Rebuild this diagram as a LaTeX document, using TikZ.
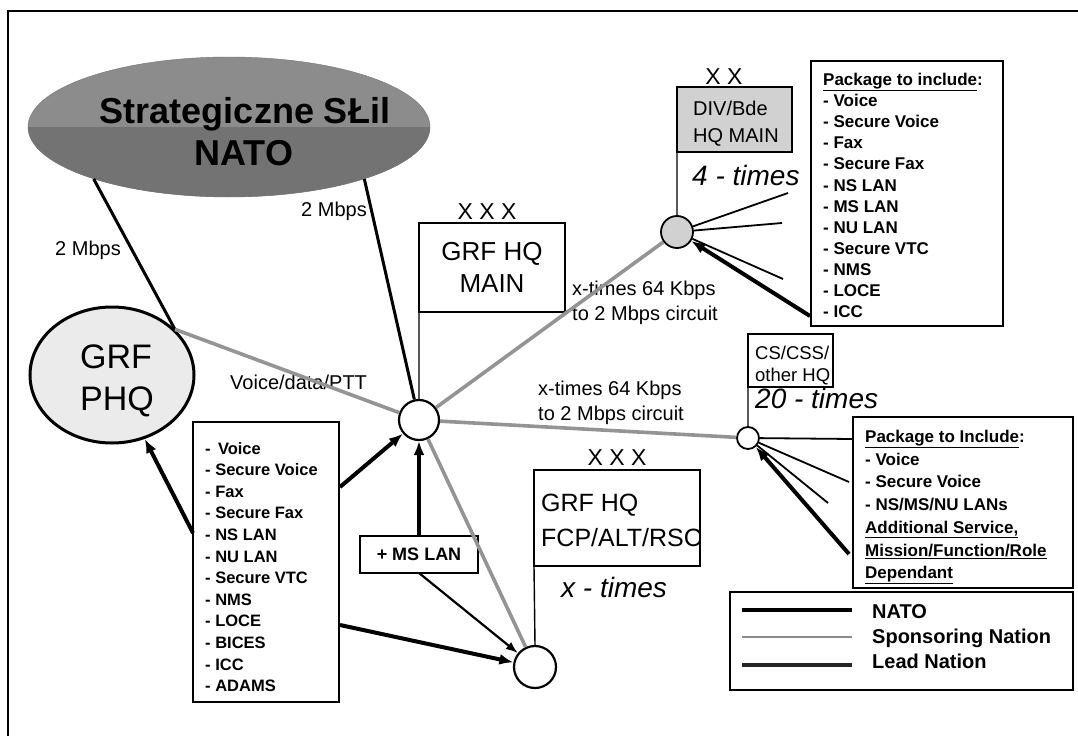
\documentclass[tikz,border=0pt]{standalone}
\usepackage{fontspec}
\setmainfont{Liberation Sans}
\usetikzlibrary{shapes.geometric,arrows.meta}
\newcommand\fsz[2]{\fontsize{#1bp}{#2bp}\selectfont}
\begin{document}
\begin{tikzpicture}[x=1bp,y=-1bp,
  box/.style={draw,line width=1.3bp,inner sep=0pt,outer sep=0pt},
  thinln/.style={line width=1.4bp},
  fanln/.style={line width=1.8bp},
  blk/.style={line width=3bp},
  gryln/.style={line width=3.6bp,draw=black!42},
  arr/.style={line width=4bp,-{Latex[length=14bp,width=11bp]}},
  arrm/.style={line width=2.2bp,-{Latex[length=12bp,width=9bp]}},
  lbl/.style={inner sep=0pt,font=\fsz{20}{25}},
  lst/.style={inner sep=0pt,align=left,anchor=north west,font=\bfseries\fsz{17}{21.1}},
  hub/.style={circle,draw,line width=2.2bp,fill=white,inner sep=0pt},
  xmark/.style={inner sep=0pt,anchor=base,font=\fsz{23}{25}},
  times/.style={inner sep=0pt,anchor=base west,font=\itshape\fsz{28}{30}}]
\useasboundingbox (0,0) rectangle (1078,736);
% frame
\draw[line width=2.5bp] (8,736) -- (8,11) -- (1078,11);

% NATO ellipse
\node[ellipse,fill=black!45,draw=black!55,minimum width=402bp,minimum height=140bp,inner sep=0pt] (nato) at (229,127) {};
\begin{scope}
  \clip (0,127) rectangle (440,200);
  \fill[black!55] (229,127) ellipse [x radius=201bp, y radius=70bp];
\end{scope}
\node[anchor=base,inner sep=0pt,font=\bfseries\fsz{36}{40}] (natoA) at (245,123) {Strategiczne SŁil};
\node[anchor=base,inner sep=0pt,font=\bfseries\fsz{36}{40}] (natoB) at (244,165) {NATO};

% GRF PHQ
\node[ellipse,draw,line width=3bp,fill=black!8,minimum width=164bp,minimum height=136bp,inner sep=0pt] (phq) at (112,375) {};
\node[anchor=base,inner sep=0pt,font=\fsz{34}{42}] (phqA) at (116,368) {GRF};
\node[anchor=base,inner sep=0pt,font=\fsz{34}{42}] (phqB) at (117,410) {PHQ};

% hubs
\node[hub,minimum size=40bp] (c1) at (419,420) {};
\node[hub,minimum size=32bp,fill=black!18,line width=1.8bp] (c2) at (677,232) {};
\node[hub,minimum size=22bp,line width=1.8bp] (c3) at (748,438) {};
\node[hub,minimum size=42bp] (c4) at (535,667) {};

% GRF HQ MAIN
\node[box,line width=2bp,minimum width=146bp,minimum height=89bp,align=center,font=\fsz{26}{32}] (main) at (492,267.5) {GRF HQ\\MAIN};
\node[xmark] (mainX) at (487,219) {X X X};

% DIV/Bde
\node[box,line width=2.5bp,fill=black!18,minimum width=115bp,minimum height=65bp] (div) at (734.5,119.5) {};
\node[anchor=north west,inner sep=0pt,align=left,font=\fsz{20}{27}] (divT) at (693,101) {DIV/Bde\\HQ MAIN};
\node[xmark] (divX) at (724,85) {X X};
\node[times] (divN) at (692,185) {4 - times};

% CS/CSS
\node[box,line width=2bp,minimum width=85bp,minimum height=53bp] (cs) at (790.5,360.5) {};
\node[anchor=north west,inner sep=0pt,align=left,font=\fsz{18.5}{22}] (csT) at (755,346) {CS/CSS/\\other HQ};
\node[times] (csN) at (755,408) {20 - times};

% FCP
\node[box,line width=2bp,minimum width=166bp,minimum height=96bp] (fcp) at (617,518) {};
\node[anchor=north west,inner sep=0pt,align=left,font=\fsz{25}{35}] (fcpT) at (541,494) {GRF HQ\\FCP/ALT/RSC};
\node[xmark] (fcpX) at (617,465) {X X X};
\node[times] (fcpN) at (561,597) {x - times};

% package 1
\node[box,minimum width=192bp,minimum height=265bp] (pkg1) at (907,193.5) {};
\node[lst] (pkg1T) at (823,73) {\underline{Package to include}:\\- Voice\\- Secure Voice\\- Fax\\- Secure Fax\\- NS LAN\\- MS LAN\\- NU LAN\\- Secure VTC\\- NMS\\- LOCE\\- ICC};

% package 2
\node[box,minimum width=220bp,minimum height=171bp] (pkg2) at (963,502.5) {};
\node[lst,font=\bfseries\fsz{17}{22.7}] (pkg2T) at (865,430) {\underline{Package to Include}:\\- Voice\\- Secure Voice\\- NS/MS/NU LANs\\\underline{Additional Service,}\\\underline{Mission/Function/Role}\\\underline{Dependant}};

% list box
\node[box,minimum width=146bp,minimum height=280bp] (lst) at (266,562) {};
\node[lst,font=\bfseries\fsz{16.5}{21.6}] (lstT) at (205,442) {-\, Voice\\- Secure Voice\\- Fax\\- Secure Fax\\- NS LAN\\- NU LAN\\- Secure VTC\\- NMS\\- LOCE\\- BICES\\- ICC\\- ADAMS};

% + MS LAN
\node[box,minimum width=118bp,minimum height=37bp,font=\bfseries\fsz{18}{20}] (msl) at (419,554.5) {+ MS LAN};

% legend
\node[box,minimum width=343bp,minimum height=98bp] (leg) at (901.5,641) {};
\draw[line width=4bp] (742,610) -- (852,610);
\draw[line width=2.2bp,draw=black!45] (742,637) -- (852,637);
\draw[line width=4.5bp,draw=black!85] (742,665) -- (852,665);
\node[anchor=base west,inner sep=0pt,font=\bfseries\fsz{20}{24}] (legA) at (872,618) {NATO};
\node[anchor=base west,inner sep=0pt,font=\bfseries\fsz{20}{24}] (legB) at (872,643) {Sponsoring Nation};
\node[anchor=base west,inner sep=0pt,font=\bfseries\fsz{20}{24}] (legC) at (872,668) {Lead Nation};

% labels
\node[lbl,anchor=base] (l2a) at (88,255) {2 Mbps};
\node[lbl,anchor=base] (l2b) at (334,216) {2 Mbps};
\node[lbl,anchor=base west] (lvd) at (230,389) {Voice/data/PTT};
\node[lbl,anchor=north west,align=left] (lx1) at (572,281) {x-times 64 Kbps\\to 2 Mbps circuit};
\node[lbl,anchor=north west,align=left] (lx2) at (538,381) {x-times 64 Kbps\\to 2 Mbps circuit};

% free ends
\coordinate (d1) at (788,193);
\coordinate (d2) at (782,223);
\coordinate (d3) at (783,279);
\coordinate (d4) at (810,316);
\coordinate (e1) at (853,439);
\coordinate (e2) at (849,482);
\coordinate (e3) at (828,503);
\coordinate (e4) at (849,554);
\coordinate (f1) at (340,487);
\coordinate (f2) at (340,625);
\coordinate (f3) at (193,533);

% connectors
\draw[blk] (nato.201) -- (phq.36);
\draw[gryln] (phq.36) -- (c1);
\draw[blk] (nato.339) -- (c1);
\draw[thinln] (main.south west) -- (c1.north);
\draw[gryln] (c1) -- (c2);
\draw[gryln] (c1) -- (c3);
\draw[gryln] (c1) -- (c4);
\draw[thinln] (div.south west) -- (c2.north);
\draw[thinln] (cs.south west) -- (c3.north);
\draw[thinln] (fcp.south west) -- (c4.north);
\draw[fanln] (c2) -- (d1);
\draw[fanln] (c2) -- (d2);
\draw[fanln] (c2) -- (d3);
\draw[arr] (d4) -- (c2);
\draw[fanln] (c3) -- (e1);
\draw[fanln] (c3) -- (e2);
\draw[fanln] (c3) -- (e3);
\draw[arr] (e4) -- (c3);
\draw[arr] (f1) -- (c1);
\draw[arr] (f2) -- (c4);
\draw[arr] (f3) -- (phq);
\draw[arr] (msl.north) -- (c1.south);
\draw[arrm] (msl.south) -- (c4);
\end{tikzpicture}
\end{document}
